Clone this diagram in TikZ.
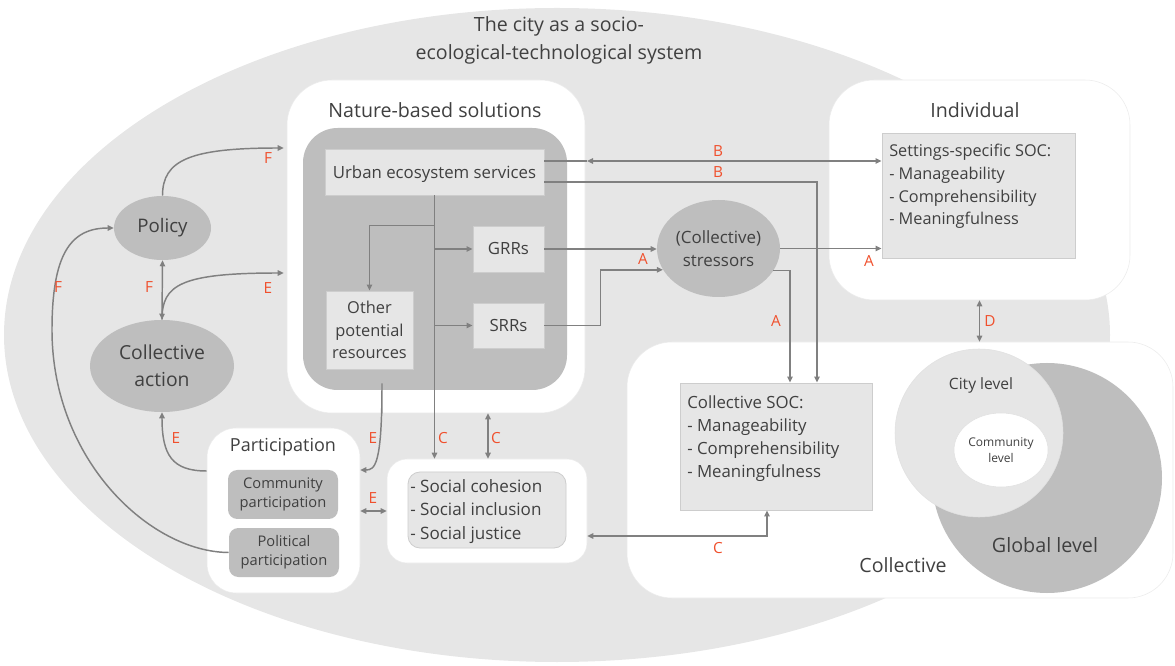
\documentclass[tikz,border=0pt]{standalone}
\usepackage{fontspec}
\setmainfont{Open Sans}
\usetikzlibrary{shapes.geometric,arrows.meta,calc}
\definecolor{bgc}{RGB}{230,230,230}
\definecolor{dkc}{RGB}{190,190,190}
\definecolor{ltc}{RGB}{230,230,230}
\definecolor{txc}{RGB}{64,64,64}
\definecolor{lnc}{RGB}{128,128,128}
\definecolor{rdc}{RGB}{240,80,45}
\definecolor{bdc}{RGB}{205,205,205}
\begin{document}
\begin{tikzpicture}[x=0.75pt,y=-0.75pt,
  box/.style={rectangle,inner sep=0pt,text=txc},
  wbox/.style={box,fill=white,draw=bdc!40,line width=0.4pt},
  lbox/.style={box,fill=ltc,draw=bdc,line width=0.6pt},
  dbox/.style={box,fill=dkc,draw=none},
  ell/.style={ellipse,inner sep=0pt,fill=dkc,text=txc},
  tip/.tip={Triangle[length=4.5pt,width=4pt]},
  gline/.style={draw=lnc,line width=1.1pt},
  arr/.style={gline,-tip},
  arr2/.style={gline,tip-tip},
  lbl/.style={text=rdc,inner sep=0pt,font=\fontsize{11.5}{13}\selectfont},
  fa/.style={font=\fontsize{12.6}{15}\selectfont},
  fb/.style={font=\fontsize{14.7}{17}\selectfont},
  fs/.style={font=\fontsize{11}{14.5}\selectfont},
]
\useasboundingbox (0,0) rectangle (1175,666);
% big ellipse
\fill[bgc] (557,335) ellipse [x radius=414.75pt, y radius=245.25pt];
\node[text=txc,align=center,font=\fontsize{14.7}{21}\selectfont] (title) at (559,40) {The city as a socio-\\ecological-technological system};

% Nature-based solutions
\node[wbox,rounded corners=33.75pt,minimum width=223.5pt,minimum height=249.75pt] (nbs) at (436,246.5) {};
\node[text=txc,fb] (nbst) at (435,110) {Nature-based solutions};
\node[dbox,rounded corners=26pt,minimum width=198pt,minimum height=196.5pt] (nbsin) at (435,259) {};
\node[lbox,fa,minimum width=164.25pt,minimum height=34.5pt,text depth=0pt] (ues) at (434.5,172) {Urban ecosystem services};
\node[lbox,fa,minimum width=53.25pt,minimum height=34.5pt] (grr) at (508.5,249) {GRRs};
\node[lbox,fa,minimum width=53.25pt,minimum height=33.75pt] (srr) at (508.5,325.5) {SRRs};
\node[lbox,fa,align=center,minimum width=65.25pt,minimum height=58.5pt,font=\fontsize{12.3}{17}\selectfont] (oth) at (369.5,330) {Other\\potential\\resources};

% Policy, collective action
\node[ell,minimum width=72.75pt,minimum height=48pt,font=\fontsize{14}{17}\selectfont] (pol) at (162.5,228) {Policy};
\node[ell,align=center,minimum width=108pt,minimum height=69pt,font=\fontsize{14.5}{20}\selectfont] (cact) at (162,366) {Collective\\action};

% Participation
\node[wbox,rounded corners=22pt,minimum width=114.75pt,minimum height=123.75pt] (part) at (283.5,510.5) {};
\node[text=txc,font=\fontsize{13.5}{16}\selectfont] (partt) at (283,447) {Participation};
\node[dbox,fs,align=center,rounded corners=7pt,minimum width=82.5pt,minimum height=36.75pt] (cpart) at (283,494.5) {Community\\participation};
\node[dbox,fs,align=center,rounded corners=7pt,minimum width=82.5pt,minimum height=36.75pt] (ppart) at (284,552.5) {Political\\participation};

% Social
\node[wbox,rounded corners=15pt,minimum width=150pt,minimum height=78pt] (soc) at (487,511) {};
\node[lbox,rounded corners=9pt,minimum width=118.5pt,minimum height=57pt] (socin) at (487,510) {};
\node[text=txc,anchor=north west,inner sep=0pt,align=left,font=\fontsize{12.8}{17.6}\selectfont] (soct) at (410,479) {- Social cohesion\\- Social inclusion\\- Social justice};

% Stressors
\node[ell,align=center,minimum width=92.25pt,minimum height=72.75pt,font=\fontsize{12.7}{17}\selectfont] (str) at (718.5,248.5) {(Collective)\\stressors};

% Individual
\node[wbox,rounded corners=33.75pt,minimum width=225.75pt,minimum height=165pt] (ind) at (979.5,190) {};
\node[text=txc,fb] (indt) at (975,110) {Individual};
\node[lbox,minimum width=144.75pt,minimum height=93.75pt] (sa) at (978.5,195.5) {};
\node[text=txc,anchor=north west,inner sep=0pt,align=left,font=\fontsize{12.2}{17}\selectfont] (sat) at (889,144) {Settings-specific SOC:\\- Manageability\\- Comprehensibility\\- Meaningfulness};

% Collective
\node[wbox,rounded corners=33.75pt,minimum width=409.5pt,minimum height=192pt] (col) at (900,470) {};
\node[text=txc,fb] (colt) at (903,565) {Collective};
\node[lbox,minimum width=144pt,minimum height=95.25pt] (sb) at (776,446.5) {};
\node[text=txc,anchor=north west,inner sep=0pt,align=left,font=\fontsize{12.6}{17.25}\selectfont] (sbt) at (687,395) {Collective SOC:\\- Manageability\\- Comprehensibility\\- Meaningfulness};
\node[circle,fill=dkc,inner sep=0pt,minimum size=172.5pt] (glob) at (1047,478) {};
\node[circle,fill=ltc,draw=bdc!60,line width=0.4pt,inner sep=0pt,minimum size=126pt] (city) at (979,433) {};
\node[ellipse,fill=white,draw=bdc!60,line width=0.4pt,inner sep=0pt,minimum width=70.5pt,minimum height=55.5pt,align=center,text=txc,font=\fontsize{9}{12}\selectfont] (comm) at (1001,450) {Community\\level};
\node[text=txc,font=\fontsize{11.7}{14}\selectfont] (cityt) at (981,385) {City level};
\node[text=txc,font=\fontsize{14.8}{17}\selectfont] (globt) at (1045,545) {Global level};

% connectors inside NbS
\draw[arr] (ues.south) -- (ues.south |- soc.north);
\draw[arr] ($(ues.south)+(0,30)$) -| (oth.north);
\draw[arr] (ues.south |- grr.west) -- (grr.west);
\draw[arr] (ues.south |- srr.west) -- (srr.west);

% left side
\draw[arr] (pol.north) .. controls (162.5,160) and (190,148) .. ($(nbs.west)+(-3,-98.5)$);
\draw[arr2] (pol.south) -- (cact.north);
\draw[arr] (cact.north) .. controls (162,285) and (180,273) .. ($(nbs.west)+(-3,26.5)$);
\draw[arr] (ppart.west) .. controls (150,552) and (52,460) .. (52,330) .. controls (52,255) and (70,228) .. (pol.west);
\draw[arr] ($(part.west)+(0,-39.5)$) .. controls (172,471) and (162,455) .. (cact.south);
\draw[arr] ($(nbs.south)+(-54,0)$) -- ++(0,-30) .. controls (382,465) and (375,470) .. ($(part.east)+(0,-40.5)$);
\draw[arr2] (soc.west -| part.east) -- (soc.west);
\draw[arr2] (soc.north -| 488,0) -- (nbs.south -| 488,0);

% right side
\draw[arr] (grr.east) -- (grr.east -| str.west);
\draw[arr] (srr.east) -- ++(42pt,0) |- (str.201);
\draw[arr] (str.east) -- (str.east -| sa.west);
\draw[arr] (str.338) -| ($(sb.north)+(14,0)$);
\draw[arr] ($(ues.east)+(0,10)$) -| ($(sb.north)+(41,0)$);
\coordinate (bmid) at (587,161);
\draw[gline] ($(ues.east)+(0,-11)$) -- (bmid);
\draw[arr2] (bmid) -- (bmid -| sa.west);
\draw[arr2] (ind.south) -- (ind.south |- col.north);
\draw[arr2] ($(soc.east)+(0,25)$) -| ($(sb.south)+(-9,0)$);

% labels
\node[lbl] (l1) at (268,158) {F};
\node[lbl] (l2) at (149,287) {F};
\node[lbl] (l3) at (268,288) {E};
\node[lbl] (l4) at (58,287) {F};
\node[lbl] (l5) at (176,438) {E};
\node[lbl] (l6) at (373,438) {E};
\node[lbl] (l7) at (373,498) {E};
\node[lbl] (l8) at (443,438) {C};
\node[lbl] (l9) at (496,438) {C};
\node[lbl] (l10) at (718,151) {B};
\node[lbl] (l11) at (718,172) {B};
\node[lbl] (l12) at (643,259) {A};
\node[lbl] (l13) at (869,261) {A};
\node[lbl] (l14) at (776,321) {A};
\node[lbl] (l15) at (990,321) {D};
\node[lbl] (l16) at (718,548) {C};
\end{tikzpicture}
\end{document}
